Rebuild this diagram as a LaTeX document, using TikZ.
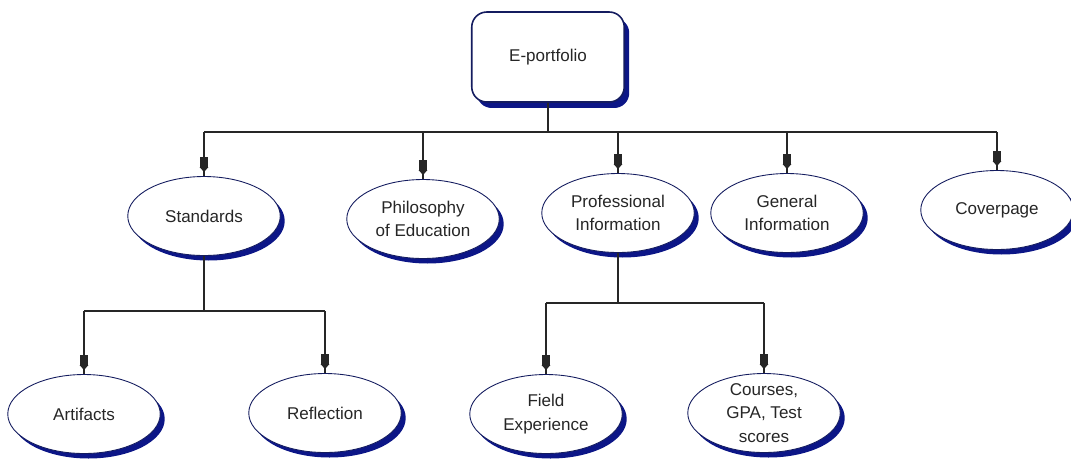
\documentclass[tikz,border=0pt]{standalone}
\usepackage{fontspec}
\setmainfont{Liberation Sans}
\usetikzlibrary{shapes.geometric,shadows,arrows.meta,decorations.markings}
\definecolor{rim}{RGB}{20,28,95}
\definecolor{shade}{RGB}{12,22,135}

\begin{document}
\begin{tikzpicture}[x=0.02cm,y=-0.02cm,
    words/.style={align=center,text=black!85,font=\fontsize{9.7}{13.5}\selectfont},
    topic/.style={ellipse,draw=rim,line width=0.5pt,fill=white,words,
        minimum width=3.05cm,minimum height=1.58cm,inner sep=0pt,
        drop shadow={shadow xshift=0.09cm,shadow yshift=-0.1cm,fill=shade,opacity=1}},
    head/.style={rectangle,rounded corners=0.3cm,draw=rim,line width=0.9pt,fill=white,words,
        minimum width=3.05cm,minimum height=1.8cm,
        drop shadow={shadow xshift=0.1cm,shadow yshift=-0.12cm,fill=shade,opacity=1}},
    wire/.style={line width=1pt,black!85},
    feed/.style={wire,postaction={decorate,decoration={markings,
        mark=at position -5.1pt with {\arrow{Rectangle[length=5.7pt,width=4.8pt]}},
        mark=at position -2.3pt with {\arrow{Triangle[length=2.8pt,width=4.8pt]}}}}}]
    \useasboundingbox (0,0) rectangle (1071,468);

    \node[head] (eport) at (548,57) {E-portfolio};

    \node[topic] (stand) at (204,216) {Standards};
    \node[topic] (philo) at (423,219) {Philosophy\\of Education};
    \node[topic] (prof) at (618,213) {Professional\\Information};
    \node[topic] (gen) at (787,213) {General\\Information};
    \node[topic] (cover) at (997,210) {Coverpage};

    \node[topic] (arti) at (84,414) {Artifacts};
    \node[topic] (refl) at (325,413) {Reflection};
    \node[topic] (field) at (546,414) {Field\\Experience};
    \node[topic,label={[words]center:Courses,\\GPA, Test\\scores}] (course) at (764,413) {};

    % top level
    \coordinate (hub) at (548,132);
    \draw[wire] (eport) -- (hub);
    \draw[wire] (stand.north |- hub) -- (cover.north |- hub);
    \foreach \n in {stand,philo,prof,gen,cover}
        \draw[feed] (\n.north |- hub) -- (\n.north);

    % under standards
    \coordinate (lhub) at (204,311);
    \draw[wire] (stand) -- (lhub);
    \draw[wire] (arti.north |- lhub) -- (refl.north |- lhub);
    \foreach \n in {arti,refl}
        \draw[feed] (\n.north |- lhub) -- (\n.north);

    % under professional information
    \coordinate (rhub) at (618,303);
    \draw[wire] (prof) -- (rhub);
    \draw[wire] (field.north |- rhub) -- (course.north |- rhub);
    \foreach \n in {field,course}
        \draw[feed] (\n.north |- rhub) -- (\n.north);
\end{tikzpicture}
\end{document}
